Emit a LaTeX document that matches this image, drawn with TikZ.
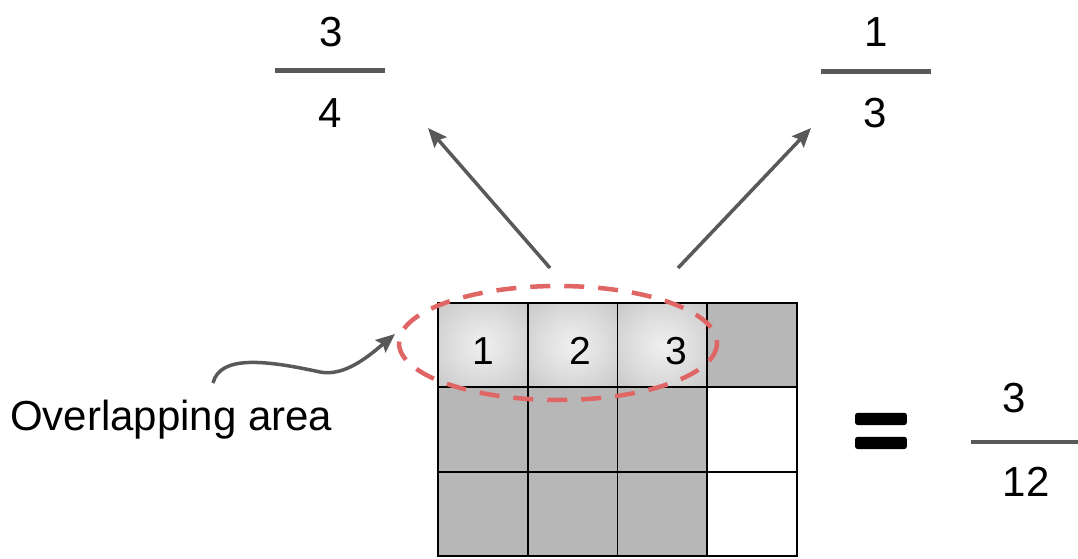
\documentclass[tikz,border=0pt]{standalone}
\usepackage{fontspec}
\setmainfont{Liberation Sans}
\newfontfamily\eqfont[RawFeature={embolden=5.5}]{Liberation Sans}
\usetikzlibrary{arrows.meta,calc,positioning}
\definecolor{cellgray}{HTML}{B7B7B7}
\definecolor{arrgray}{HTML}{595959}
\definecolor{ovlred}{HTML}{E06666}
\pgfdeclareradialshading{cellglow}{\pgfpoint{0bp}{0bp}}{color(0bp)=(white!94!black); color(15bp)=(white!88!black); color(35bp)=(white!79!black); color(50bp)=(white!73!black)}
\tikzset{num/.style={inner sep=0pt,font=\fontsize{42}{48}\selectfont},
  cellnum/.style={inner sep=0pt,font=\fontsize{39}{44}\selectfont},
  fbar/.style={arrgray,line width=4.5pt},
  ptr/.style={arrgray,line width=3.5pt,-{Stealth[length=19pt,width=16pt,inset=3pt]}}}

\begin{document}
\begin{tikzpicture}[x=1pt,y=-1pt,line join=round]
\useasboundingbox (0,0) rectangle (1078,559);
% --- 4 x 3 grid, overlap cells shaded in the top row
\fill[cellgray] (438,387.3) rectangle (707.25,556);
\fill[cellgray] (707.25,303) rectangle (797,387.3);
\foreach \c in {0,1,2} {\shade[shading=cellglow] ({438+\c*89.75},303) rectangle +(89.75,84.33);}
\foreach \c in {0,...,4} {\draw[line width=1.8pt,line cap=rect] ({438+\c*89.75},303) -- ({438+\c*89.75},556);}
\foreach \r in {0,...,3} {\draw[line width=1.8pt,line cap=rect] (438,{303+\r*84.33}) -- (797,{303+\r*84.33});}
\node[cellnum] (c1) at (483,351) {1};
\node[cellnum] (c2) at (580,351) {2};
\node[cellnum] (c3) at (676,351) {3};
\draw[ovlred,line width=4.5pt,dash pattern=on 20pt off 14pt] (558,343) ellipse [x radius=159,y radius=57];
% --- fractions of the two factors
\node[num] (numL) at (331,32) {3};
\draw[fbar] (275,70.5) -- (385,70.5);
\node[num] (denL) at (330,113) {4};
\node[num] (numR) at (876,32) {1};
\draw[fbar] (821,71.5) -- (931,71.5);
\node[num] (denR) at (875,113) {3};
\coordinate (la) at (550,268); \coordinate (lb) at (428,128);
\coordinate (ra) at (678,268); \coordinate (rb) at (811,128);
\draw[ptr] (la) -- (lb);
\draw[ptr] (ra) -- (rb);
% --- label of the overlap
\node[num,anchor=base west] (lbl) at (10,430) {Overlapping area};
\coordinate (ca) at (213,383); \coordinate (cb) at (395,334);
\draw[ptr] (ca) .. controls (220,355) and (265,360) .. (320,372) .. controls (345,377) and (370,355) .. (cb);
% --- result
\node[inner sep=0pt,anchor=base,font=\eqfont\fontsize{96}{96}\selectfont] (eq) at (881,462.5) {=};
\node[num] (numT) at (1014,398) {3};
\draw[fbar] (971,442) -- (1078,442);
\node[num] (denT) at (1026,482) {12};
\end{tikzpicture}
\end{document}
